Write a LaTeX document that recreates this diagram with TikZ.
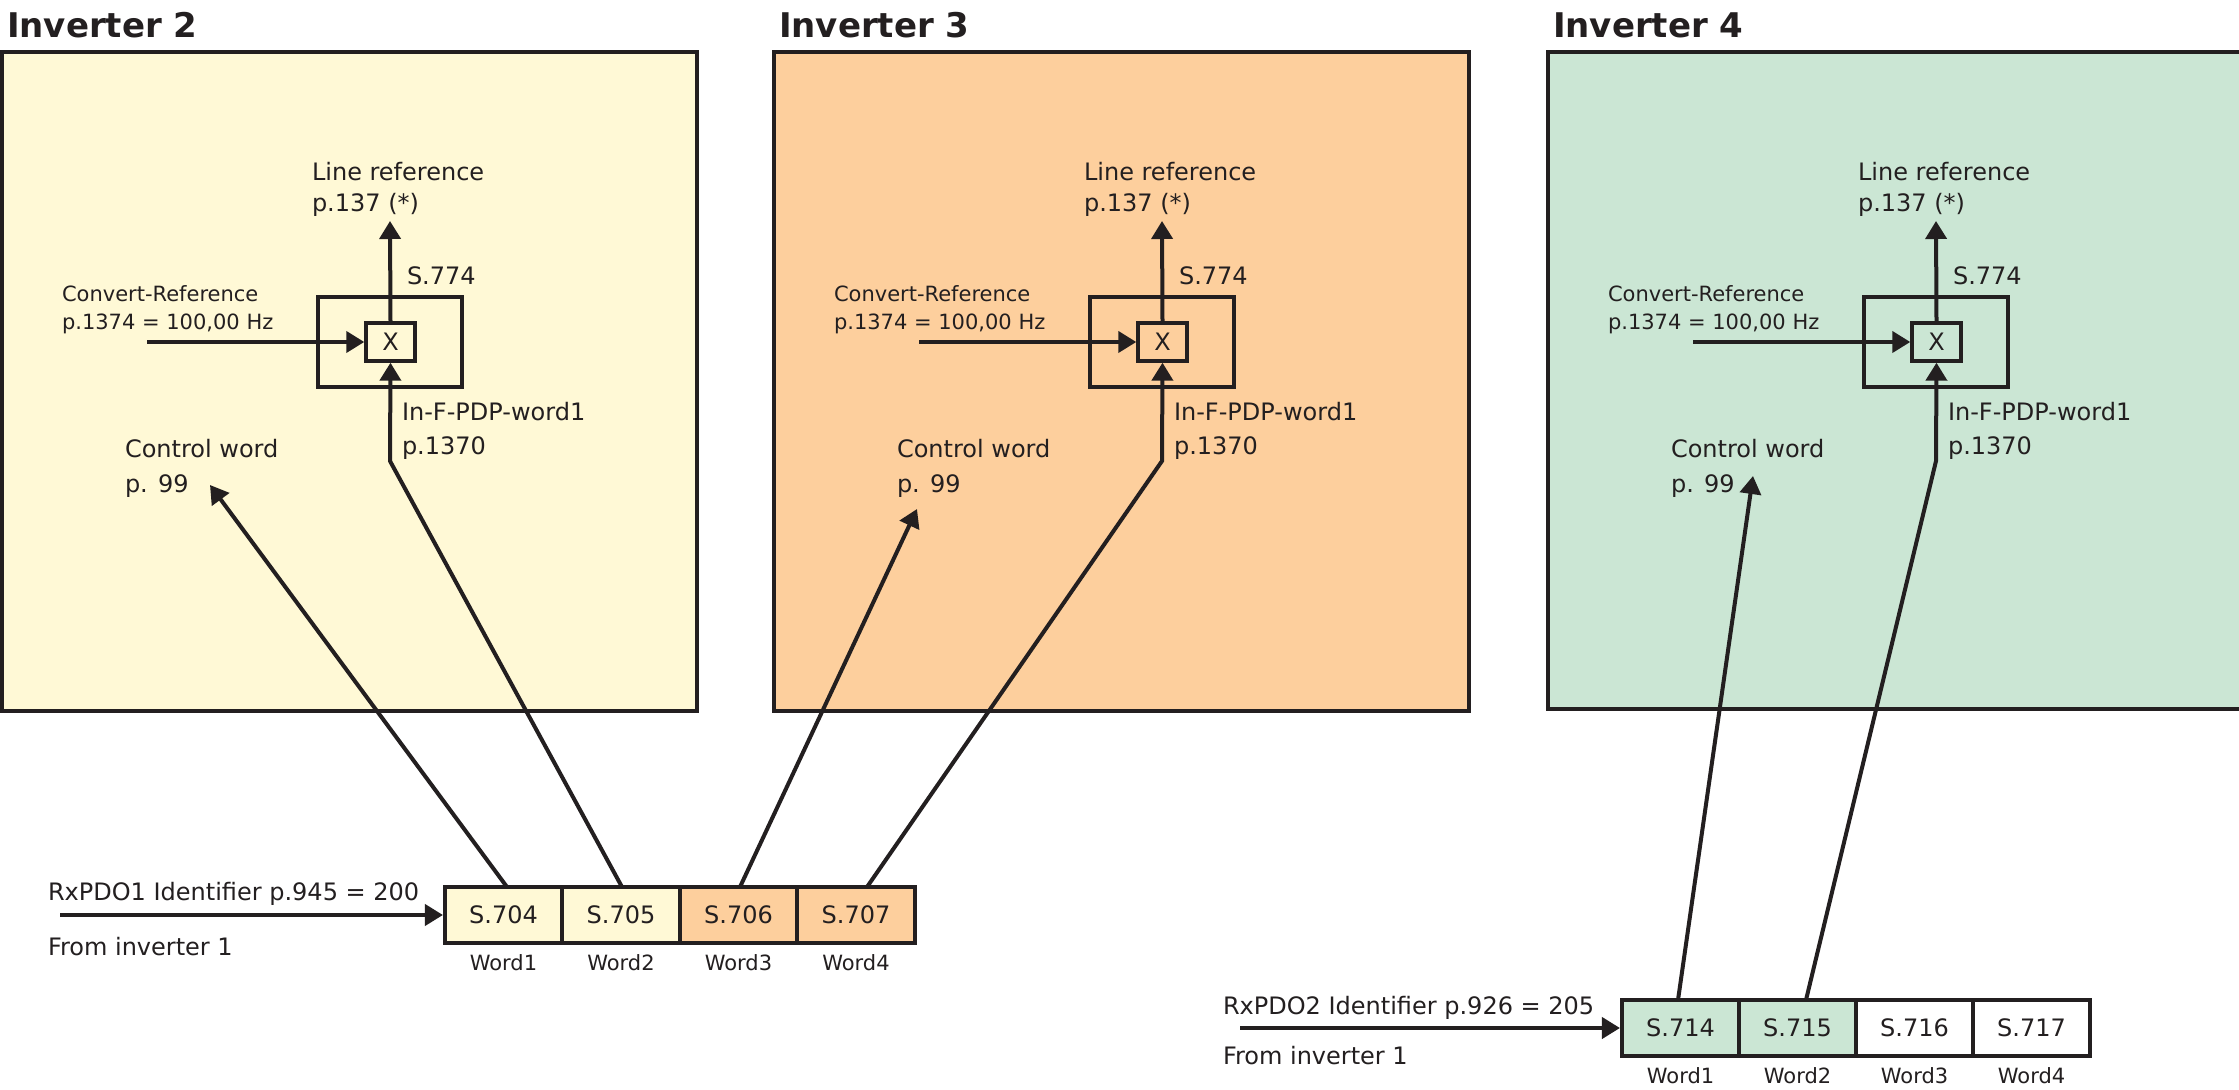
\documentclass[tikz,border=0pt]{standalone}
\usepackage{fontspec}
\setmainfont{DejaVu Sans}
\usetikzlibrary{arrows.meta}
\definecolor{ink}{HTML}{231F20}
\definecolor{yel}{HTML}{FFF9D6}
\definecolor{ora}{HTML}{FDCF9D}
\definecolor{grn}{HTML}{CBE6D4}
\tikzset{
  txt/.style={anchor=base west, inner sep=0pt, outer sep=0pt, text=ink, font=\fontsize{12}{14}\selectfont},
  smalltxt/.style={txt, font=\fontsize{10.5}{12}\selectfont},
  ttl/.style={txt, font=\fontsize{17}{20}\selectfont\bfseries},
  panel/.style={draw=ink, line width=2pt},
  obox/.style={draw=ink, line width=1.7pt, minimum width=72pt, minimum height=45pt, inner sep=0pt},
  xbox/.style={draw=ink, line width=1.7pt, minimum width=24.5pt, minimum height=19pt, inner sep=0pt, text=ink, font=\fontsize{12}{14}\selectfont},
  cell/.style={draw=ink, line width=1.8pt, minimum width=58.75pt, minimum height=28pt, inner sep=0pt, text=ink, font=\fontsize{12}{14}\selectfont},
  wlbl/.style={anchor=base, inner sep=0pt, text=ink, font=\fontsize{10.5}{12}\selectfont},
  conn/.style={draw=ink, line width=2pt, -{Triangle[length=9pt,width=10.5pt]}},
}
\newcommand\invpanel[6]{%
  \begin{scope}[shift={(#2,0)}]
    \draw[panel, fill=#3] (2,52) rectangle (#6,#5);
    \node[ttl] (title#1) at (7,38) {#4};
    \node[txt] (lra#1) at (312,181) {Line reference};
    \node[txt] (lrb#1) at (312,212) {p.137 (*)};
    \coordinate (lrtip#1) at (390,221);
    \node[txt] (sv#1) at (407,285) {S.774};
    \node[obox] (ob#1) at (390,342) {};
    \node[xbox] (xb#1) at (390.5,342) {X};
    \node[smalltxt] (cra#1) at (62,302) {Convert-Reference};
    \node[smalltxt] (crb#1) at (62,330) {p.1374 = 100,00 Hz};
    \coordinate (crin#1) at (147,342);
    \node[txt] (ina#1) at (402,421) {In-F-PDP-word1};
    \node[txt] (inb#1) at (402,455) {p.1370};
    \node[txt] (cwa#1) at (125,458) {Control word};
    \node[txt] (cwb#1) at (125,493) {p. 99};
    \coordinate (bend#1) at (390,461);
    \draw[conn] (xb#1.north) -- (lrtip#1);
    \draw[conn] (crin#1) -- (xb#1.west);
  \end{scope}}
\begin{document}
\begin{tikzpicture}[x=0.5pt, y=-0.5pt]
\useasboundingbox (0,0) rectangle (2239,1090);
\clip (0,0) rectangle (2239,1090);
\fill[white] (0,0) rectangle (2239,1090);

\invpanel{2}{0}{yel}{Inverter 2}{711}{697}
\invpanel{3}{772}{ora}{Inverter 3}{711}{697}
\invpanel{4}{1546}{grn}{Inverter 4}{709}{700}

% register row 1
\node[cell, fill=yel] (c704) at (503.5,915) {S.704};
\node[cell, fill=yel] (c705) at (621,915) {S.705};
\node[cell, fill=ora] (c706) at (738.5,915) {S.706};
\node[cell, fill=ora] (c707) at (856,915) {S.707};
\node[wlbl] (w704) at (503.5,970) {Word1};
\node[wlbl] (w705) at (621,970) {Word2};
\node[wlbl] (w706) at (738.5,970) {Word3};
\node[wlbl] (w707) at (856,970) {Word4};
\node[txt] (rx1) at (48,900) {RxPDO1 Identifier p.945 = 200};
\node[txt] (from1) at (48,955) {From inverter 1};
\coordinate (rx1in) at (60,915);
\draw[conn] (rx1in) -- (c704.west);

% register row 2
\node[cell, fill=grn] (c714) at (1680.5,1028) {S.714};
\node[cell, fill=grn] (c715) at (1797.5,1028) {S.715};
\node[cell, fill=white] (c716) at (1914.5,1028) {S.716};
\node[cell, fill=white] (c717) at (2031.5,1028) {S.717};
\node[wlbl] (w714) at (1680.5,1083) {Word1};
\node[wlbl] (w715) at (1797.5,1083) {Word2};
\node[wlbl] (w716) at (1914.5,1083) {Word3};
\node[wlbl] (w717) at (2031.5,1083) {Word4};
\node[txt] (rx2) at (1223,1014) {RxPDO2 Identifier p.926 = 205};
\node[txt] (from2) at (1223,1064) {From inverter 1};
\coordinate (rx2in) at (1240,1028);
\draw[conn] (rx2in) -- (c714.west);

% connector origins and targets
\coordinate (o704) at (507,887);
\coordinate (o705) at (622,887);
\coordinate (o706) at (740,887);
\coordinate (o707) at (867,887);
\coordinate (o714) at (1678,1000);
\coordinate (o715) at (1806,1000);
\coordinate (cw2tip) at (210,485);
\coordinate (cw3tip) at (917,509);
\coordinate (cw4tip) at (1753,476);

\draw[conn] (o704) -- (cw2tip);
\draw[conn] (o705) -- (bend2) -- (xb2.south);
\draw[conn] (o706) -- (cw3tip);
\draw[conn] (o707) -- (bend3) -- (xb3.south);
\draw[conn] (o714) -- (cw4tip);
\draw[conn] (o715) -- (bend4) -- (xb4.south);
\end{tikzpicture}
\end{document}
